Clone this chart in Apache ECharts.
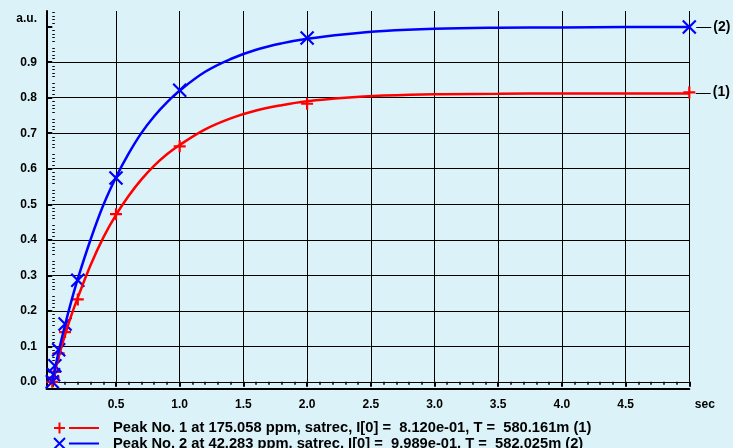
<!DOCTYPE html>
<html>
<head>
<meta charset="utf-8">
<script src="https://cdn.jsdelivr.net/npm/echarts@6/dist/echarts.min.js"></script>
<style>
html,body{margin:0;padding:0;background:#dbf3f8;}
#chart{width:733px;height:448px;}
</style>
</head>
<body>
<div id="chart"></div>
<script>
// ---- data ----
const tSample = [0, 0.01, 0.02, 0.05, 0.1, 0.2, 0.5, 1, 2, 5];
const peak1Points = [0.0, 0.012, 0.028, 0.080, 0.140, 0.232, 0.472, 0.663, 0.783, 0.815];
const peak2Points = [0.0, 0.020, 0.045, 0.090, 0.163, 0.286, 0.574, 0.821, 0.968, 0.999];

const tCurve = [0, 0.05, 0.1, 0.15, 0.2, 0.3, 0.4, 0.5, 0.6, 0.7, 0.8, 0.9, 1.0, 1.2, 1.4, 1.6, 1.8, 2.0, 2.3, 2.6, 3.0, 3.5, 4.0, 4.5, 5.0];
const peak1Curve = [0, 0.070, 0.133, 0.188, 0.237, 0.328, 0.406, 0.470, 0.524, 0.570, 0.609, 0.641, 0.667, 0.711, 0.742, 0.764, 0.779, 0.790, 0.800, 0.806, 0.810, 0.811, 0.812, 0.812, 0.812];
const peak2Curve = [0, 0.085, 0.160, 0.228, 0.290, 0.400, 0.497, 0.576, 0.643, 0.701, 0.748, 0.787, 0.820, 0.873, 0.909, 0.935, 0.953, 0.966, 0.979, 0.988, 0.994, 0.997, 0.998, 0.999, 0.999];

const xTicks = [0.5, 1.0, 1.5, 2.0, 2.5, 3.0, 3.5, 4.0, 4.5, 5.0];
const xTickLabels = ['0.5', '1.0', '1.5', '2.0', '2.5', '3.0', '3.5', '4.0', '4.5', 'sec'];
const yTicks = [0, 0.1, 0.2, 0.3, 0.4, 0.5, 0.6, 0.7, 0.8, 0.9, 1.0];
const yTickLabels = ['0.0', '0.1', '0.2', '0.3', '0.4', '0.5', '0.6', '0.7', '0.8', '0.9', 'a.u.'];

const seriesNames = [
  'Peak No. 1 at 175.058 ppm, satrec, I[0] =  8.120e-01, T =  580.161m (1)',
  'Peak No. 2 at 42.283 ppm, satrec, I[0] =  9.989e-01, T =  582.025m (2)'
];
const endTags = ['(1)', '(2)'];

// ---- build ----
const RED = '#ff0000', BLUE = '#0000ff';
const FONT = 'Liberation Sans, Arial, Helvetica, sans-serif';
const PLUS = 'path://M0,5L10,5M5,0L5,10';
const CROSS = 'path://M0,0L10,10M0,10L10,0';

function pairs(xs, ys) { return xs.map((x, i) => [x, ys[i]]); }
function pointsWithTag(xs, ys, tag) {
  return xs.map((x, i) => {
    const item = { value: [x, ys[i]] };
    if (i === xs.length - 1) {
      item.label = {
        show: true, position: 'right', distance: -2,
        formatter: '{d|\u2014}{t|' + tag + '}',
        rich: {
          d: { color: '#000', fontFamily: FONT, fontWeight: 'normal', fontSize: 15, padding: [0, 2, 0, 0] },
          t: { color: '#000', fontFamily: FONT, fontWeight: 'bold', fontSize: 14 }
        }
      };
    }
    return item;
  });
}
function findLabel(ticks, labels, v) {
  const i = ticks.findIndex(t => Math.abs(t - v) < 1e-6);
  return i < 0 ? '' : labels[i];
}

const X0 = 52.3, XR = 43.7, Y0B = 66.2, UNIT = 355.1;
const labelStyle = { color: '#000', fontFamily: FONT, fontWeight: 'bold', fontSize: 12 };
const legendText = { color: '#000', fontFamily: FONT, fontWeight: 'bold', fontSize: 14.7, padding: [0, 0, 0, 9] };

function legendFor(i, top, icon, color) {
  return {
    orient: 'vertical', left: 51.5, top: top, padding: 0,
    itemWidth: 45, itemHeight: 11,
    textStyle: legendText,
    data: [{ name: seriesNames[i], icon: icon,
      itemStyle: { color: 'none', borderColor: color, borderWidth: 2 } }]
  };
}

const chart = echarts.init(document.getElementById('chart'), null, { renderer: 'canvas' });
chart.setOption({
  backgroundColor: '#dbf3f8',
  animation: false,
  grid: [
    { left: X0, right: XR, top: 11, bottom: Y0B },
    { left: 46.5, right: XR, top: 11, bottom: 59 },
    { left: X0, right: XR, top: 381.8 - 1.05 * UNIT, bottom: Y0B }
  ],
  xAxis: [
    {
      type: 'value', gridIndex: 0, min: 0, max: 5, interval: 0.5, offset: 7.2,
      axisLine: { show: false },
      axisTick: { show: true, length: 5, lineStyle: { color: '#000', width: 2 } },
      minorTick: { show: true, splitNumber: 5, length: 3, lineStyle: { color: '#000', width: 1.5 } },
      splitLine: { show: true, showMinLine: false, lineStyle: { color: '#000', width: 1 } },
      axisLabel: Object.assign({}, labelStyle, {
        margin: 10,
        formatter: v => {
          const s = findLabel(xTicks, xTickLabels, v);
          return s === 'sec' ? '{u|sec}' : s;
        },
        rich: { u: Object.assign({}, labelStyle, { padding: [0, 0, 0, 31] }) }
      })
    },
    { type: 'value', gridIndex: 1, min: 0, max: 1,
      axisLine: { show: true, lineStyle: { color: '#000', width: 2 } },
      axisTick: { show: false }, axisLabel: { show: false }, splitLine: { show: false } },
    { type: 'value', gridIndex: 2, min: 0, max: 5, show: false }
  ],
  yAxis: [
    {
      type: 'value', gridIndex: 0, min: 0, max: 370.8 / UNIT, interval: 0.1, offset: 5.8,
      axisLine: { show: false },
      axisTick: { show: true, length: 5, customValues: yTicks, lineStyle: { color: '#000', width: 2 } },
      splitLine: { show: true, showMaxLine: false, lineStyle: { color: '#000', width: 1 } },
      axisLabel: Object.assign({}, labelStyle, {
        margin: 9.5,
        customValues: yTicks,
        formatter: v => {
          const s = findLabel(yTicks, yTickLabels, v);
          return s === 'a.u.' ? '{u|a.u.}' : s;
        },
        rich: { u: Object.assign({}, labelStyle, { padding: [0, 0, 16, 0] }) }
      })
    },
    { type: 'value', gridIndex: 1, min: 0, max: 1,
      axisLine: { show: true, lineStyle: { color: '#000', width: 2 } },
      axisTick: { show: false }, axisLabel: { show: false }, splitLine: { show: false } },
    { type: 'value', gridIndex: 2, min: 0, max: 1.05, interval: 0.05, offset: 5.8,
      axisLine: { show: false },
      axisTick: { show: false, inside: true },
      minorTick: { show: true, splitNumber: 5, length: 2.5, lineStyle: { color: '#000', width: 1 } },
      axisLabel: { show: false }, splitLine: { show: false } }
  ],
  legend: [
    legendFor(0, 420, 'path://M0,5.5L11,5.5M5.5,0L5.5,11M15,5.5L45,5.5', RED),
    legendFor(1, 435.5, 'path://M0,0L11,11M0,11L11,0M15,5.5L45,5.5', BLUE)
  ],
  series: [
    { name: seriesNames[0], type: 'line', xAxisIndex: 0, yAxisIndex: 0, smooth: 0.4, symbol: 'none', clip: false,
      lineStyle: { color: RED, width: 2.5 }, itemStyle: { color: RED },
      data: pairs(tCurve, peak1Curve) },
    { name: seriesNames[1], type: 'line', xAxisIndex: 0, yAxisIndex: 0, smooth: 0.4, symbol: 'none', clip: false,
      lineStyle: { color: BLUE, width: 2.5 }, itemStyle: { color: BLUE },
      data: pairs(tCurve, peak2Curve) },
    { name: 'pts1', type: 'scatter', xAxisIndex: 0, yAxisIndex: 0, symbol: PLUS, symbolSize: 12, clip: false,
      itemStyle: { color: 'none', borderColor: RED, borderWidth: 2.2, opacity: 1 },
      data: pointsWithTag(tSample, peak1Points, endTags[0]) },
    { name: 'pts2', type: 'scatter', xAxisIndex: 0, yAxisIndex: 0, symbol: CROSS, symbolSize: 13, clip: false,
      itemStyle: { color: 'none', borderColor: BLUE, borderWidth: 2.2, opacity: 1 },
      data: pointsWithTag(tSample, peak2Points, endTags[1]) }
  ]
});
</script>
</body>
</html>
